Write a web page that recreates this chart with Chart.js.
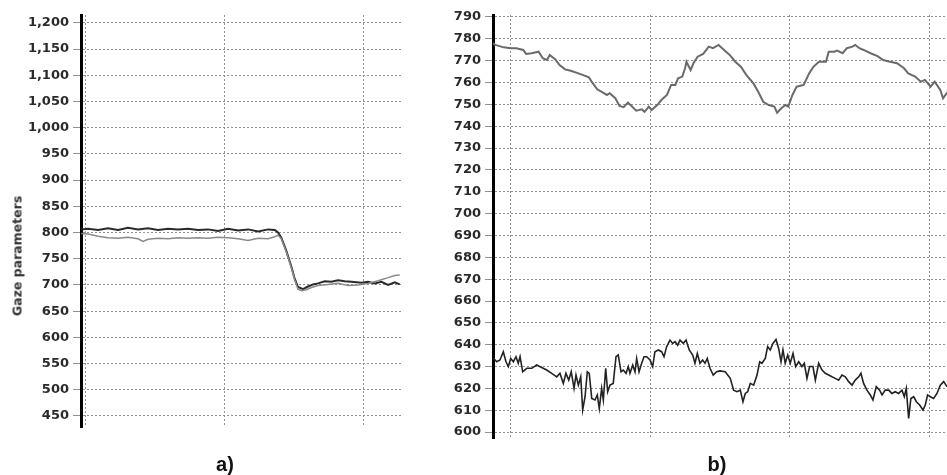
<!DOCTYPE html>
<html><head><meta charset="utf-8">
<script src="https://cdn.jsdelivr.net/npm/chart.js@4.4.1/dist/chart.umd.min.js"></script>
<style>
html,body{margin:0;padding:0;background:#fff;width:947px;height:475px;overflow:hidden;}
#ca{position:absolute;left:0;top:0;}
#cb{position:absolute;left:440px;top:0;}
.lbl{position:absolute;top:454px;font-family:"Liberation Sans Narrow","Liberation Sans",Arial,sans-serif;font-weight:bold;font-size:20px;color:#111;transform:translateX(-50%);line-height:1;}
#ytitle{position:absolute;left:17px;top:256px;transform:translate(-50%,-50%) rotate(-90deg);font:bold 12.5px "DejaVu Sans",sans-serif;color:#333;white-space:nowrap;}
</style></head>
<body>
<canvas id="ca" width="420" height="475"></canvas>
<canvas id="cb" width="507" height="475"></canvas>
<div id="ytitle">Gaze parameters</div>
<div class="lbl" style="left:225px">a)</div>
<div class="lbl" style="left:717px">b)</div>
<script>
// ---------- chart a) ----------
const aYTicks = [450,500,550,600,650,700,750,800,850,900,950,1000,1050,1100,1150,1200];
const aXTicks = [0,100,200];
const aDarkT = [-2.7,2.2,9.4,16.5,23.7,30.9,38.1,45.3,52.5,59.7,66.9,74.1,81.3,88.5,95.7,102.9,110.1,117.3,124.5,131.7,136.5,138.8,141.2,144.8,148.4,150.8,153.2,156.8,160.4,164,167.6,172.4,177.2,182,186.8,191.6,198.8,203.6,208.4,213.2,218,222.8,226.4];
const aDarkV = [806,807,805,808,805,809,806,808,805,807,806,807,805,806,803,807,804,806,802,806,805,800,790,765,735,712,696,692,697,701,703,707,706,709,707,706,704,706,703,706,700,705,701];
const aLightT = [-2.7,2.2,9.4,16.5,23.7,30.9,38.1,41.7,45.3,52.5,59.7,66.9,74.1,81.3,88.5,95.7,102.9,110.1,117.3,124.5,131.7,136.5,138.8,141.2,144.8,148.4,150.8,153.2,155.6,159.2,162.8,167.6,174.8,182,189.2,196.4,203.6,210.8,218,222.8,226.4];
const aLightV = [798,797,793,790,789,791,788,783,787,789,788,790,789,790,789,791,790,788,785,789,788,792,795,788,763,733,710,692,689,691,695,699,701,703,699,700,703,708,714,718,719];

// ---------- chart b) ----------
const bYTicks = [600,610,620,630,640,650,660,670,680,690,700,710,720,730,740,750,760,770,780,790];
const bXTicks = [0,100,200,300];
const bTopT = [-13,-11,-5,0,4,9,11,15,20,23,26,28,32,35,39,43,47,52,56,58,62,65,69,71,75,78,81,84,87,90,94,96,99,101,105,108,112,115,118,120,123,125,126,129,131,134,138,142,145,149,153,157,161,165,169,174,178,181,185,189,191,194,197,199,202,205,210,214,217,221,226,228,232,234,238,241,245,247,250,253,258,263,267,272,277,282,285,290,294,297,301,304,308,310,313];
const bTopV = [778,777.2,776.1,775.7,775.7,774.9,773.1,773.4,774.1,771.1,770.3,772.6,770.6,768,766,765.4,764.5,763.4,762.4,760.4,756.9,755.8,754.3,755.1,752.8,749.3,748.7,750.8,749,747.1,747.7,746.6,749,747.4,749.7,752,754.3,758.9,758.9,761.9,762.7,766.5,769.5,765.7,768.8,771.8,773.1,776.4,775.7,777.2,774.9,772.6,769.5,767.2,763.4,759.6,755.1,751.2,749.7,749,746.2,748.2,749.7,749,754.3,758.1,758.9,764.2,767.2,769.5,769.5,774.1,774.1,774.6,773.4,775.7,776.4,777.2,775.7,774.9,773.4,772.1,770.3,769.5,768.8,766.5,764.2,762.7,760.4,761.2,758.1,760.4,756.6,752.8,755.5];
const bBotT = [-12.7,-10,-7.7,-5.3,-3.4,-1.7,0,1.9,3.8,5.4,6.7,8.6,11.5,15.1,18.6,22.2,25.8,29.4,33,35.3,37.7,39.6,41.6,43.4,45.4,46.8,48.5,50.2,51.6,53.3,54.9,56.3,58.1,60.4,62.1,63.5,65.2,66.4,68.1,69.5,71.2,73.5,75.5,77.1,79.1,80.7,82.7,84.3,85.5,87.5,89.1,90.3,92,93.9,95.6,97.5,99.9,101.8,103.4,105.8,108.2,109.9,111.8,114.2,116.1,117.8,119.7,121.4,123.7,125.7,128,130.5,132.1,133.8,135.7,137.6,139.3,140.9,142.9,145.2,147.6,150,153.8,157.4,159.8,162.2,164.6,166.5,168.2,169.9,171.8,174.2,176.6,178.5,180.1,182.5,184.2,186.1,188,190.2,192.1,193.8,195.2,196.8,198.6,200.4,202.4,204.3,206.5,208.8,210.5,212.4,214.3,216.7,218.4,220.8,223.2,225.5,228,230.3,232.7,235.1,237.5,239.9,242.3,244.7,247,249.5,251.1,253,255.4,257.8,259.7,262.1,264.5,266.2,268.5,271,273.3,275.7,278.1,280.5,282.2,283.6,285.3,286.9,288.9,290.8,293.2,295.6,297.2,298.9,300.8,303.2,305.6,308,310.4,312.8];
const bBotV = [634,632.2,633,636.8,632.2,630,633.7,632.2,634.5,631.5,634.5,627.6,629.2,629.2,630.7,629.6,628.4,626.9,625.3,626.9,622.3,626.9,623.8,627.6,620,626.1,621.5,625.3,610.1,616.2,627.6,626.9,615.4,614.7,617,610.8,620,614.7,629.2,618.5,621.5,622.3,634.5,635.3,627.6,628.4,626.9,630,626.9,630.7,627.6,633.7,627.6,631.5,634.5,634.5,633,630,636.8,637.6,636.8,634.5,639.1,642.1,640.6,641.4,639.8,642.1,640.6,642.1,637.6,635.3,631.5,636,631.5,633,631.5,633.7,629.2,626.1,627.6,628,627.6,624.6,619.2,618.5,619.2,613.9,617.7,618.5,622.3,621.5,626.1,632.2,631.5,633.7,639.1,637.6,640.6,642.4,638.3,632.2,637.6,631.5,635.3,631.5,636,630,632.2,630,631.5,624.6,630,630,623.8,631.5,628.4,626.9,626.1,625.3,624.6,623.8,626.1,625.3,623.1,621.5,623.8,625.3,626.9,622.3,619.2,617,614.7,620.8,619.2,617,619.2,619.2,617.7,618.5,617.7,619.2,616.2,620,606.3,615.4,616.2,613.9,612.4,610.1,612.4,617,616.2,615.4,617.7,621.5,623.1,620.8];

const pts = (T, V) => T.map((t, i) => ({x: t, y: V[i]}));
const GRID = '#929292';
const tickFont = {family: 'DejaVu Sans', size: 13, weight: 'bold'};

function makeChart(id, cfg) {
  return new Chart(document.getElementById(id), {
    type: 'line',
    data: {datasets: cfg.datasets},
    options: {
      responsive: false,
      animation: false,
      layout: {padding: cfg.padding},
      plugins: {legend: {display: false}, tooltip: {enabled: false}},
      elements: {point: {radius: 0}, line: {tension: 0}},
      scales: {
        x: {
          type: 'linear', min: cfg.xMin, max: cfg.xMax,
          afterBuildTicks: s => { s.ticks = cfg.xTicks.map(v => ({value: v})); },
          afterFit: s => { s.height = 0; },
          ticks: {display: false},
          grid: {color: GRID, lineWidth: 1, drawTicks: false},
          border: {display: false, dash: [2, 2]}
        },
        y: {
          type: 'linear', min: cfg.yMin, max: cfg.yMax,
          afterBuildTicks: s => { s.ticks = cfg.yTicks.map(v => ({value: v})); },
          afterFit: s => { s.width = cfg.yWidth; },
          ticks: {color: '#2a2a2a', font: tickFont, padding: 4,
                  callback: v => v.toLocaleString('en-US')},
          grid: {color: GRID, lineWidth: 1, tickLength: 8},
          border: {display: true, color: '#000', width: 3, dash: [2, 2]}
        }
      }
    }
  });
}

makeChart('ca', {
  padding: {left: 0, top: 15, right: 18, bottom: 48},
  yWidth: 81, xMin: -2.9, xMax: 228, yMin: 429, yMax: 1215,
  xTicks: aXTicks, yTicks: aYTicks,
  datasets: [
    {data: pts(aLightT, aLightV), borderColor: '#8a8a8a', borderWidth: 1.5},
    {data: pts(aDarkT, aDarkV), borderColor: '#2b2b2b', borderWidth: 2}
  ]
});

makeChart('cb', {
  padding: {left: 0, top: 15, right: 0, bottom: 37},
  yWidth: 53, xMin: -12.7, xMax: 312.8, yMin: 597.3, yMax: 790.9,
  xTicks: bXTicks, yTicks: bYTicks,
  datasets: [
    {data: pts(bTopT, bTopV), borderColor: '#6a6a6a', borderWidth: 2},
    {data: pts(bBotT, bBotV), borderColor: '#222', borderWidth: 1.6}
  ]
});
</script>
</body></html>
